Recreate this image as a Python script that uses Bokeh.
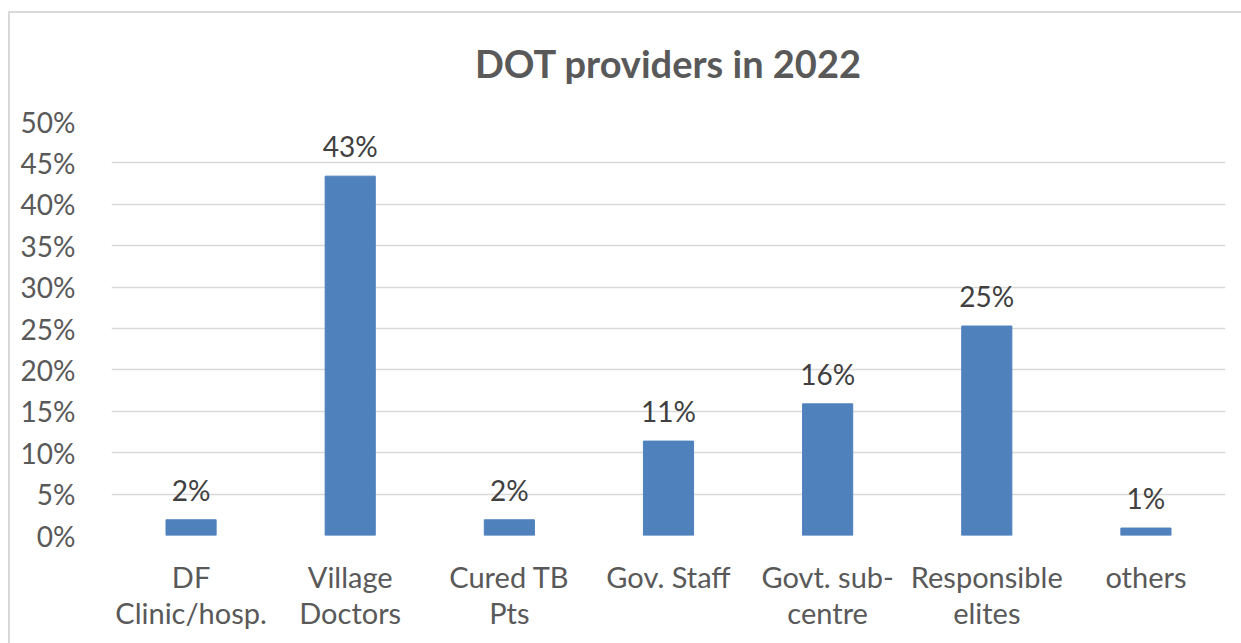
from bokeh.plotting import figure
from bokeh.models import ColumnDataSource, FixedTicker, NumeralTickFormatter, Range1d
from bokeh.core.properties import value
from bokeh.embed import file_html
from bokeh.resources import INLINE

categories = ["DF\nClinic/hosp.", "Village\nDoctors", "Cured TB\nPts", "Gov. Staff",
              "Govt. sub-\ncentre", "Responsible\nelites", "others"]
shares = [0.019, 0.434, 0.019, 0.114, 0.159, 0.253, 0.009]
labels = [f"{round(v * 100)}%" for v in shares]
y_ticks = [0, 0.05, 0.10, 0.15, 0.20, 0.25, 0.30, 0.35, 0.40, 0.45, 0.50]

FONT = "Lato"

src = ColumnDataSource(dict(cat=categories, val=shares, lab=labels))

p = figure(x_range=categories, y_range=Range1d(0, 0.5), width=1241, height=643,
           output_backend="svg", toolbar_location=None,
           min_border_left=111, min_border_right=16, min_border_top=121, min_border_bottom=108)

p.title.text = "DOT providers in 2022"
p.title.align = "center"
p.title.text_font = FONT
p.title.text_font_size = "38px"
p.title.text_font_style = "bold"
p.title.text_color = "#595959"
p.title.standoff = 72

p.vbar(x="cat", top="val", width=0.315, source=src, fill_color="#4F81BD", line_color="#4F81BD")
p.text(x="cat", y="val", text="lab", source=src, text_align="center", text_baseline="bottom",
       y_offset=-13, text_font=value(FONT), text_font_size="28px", text_color="#404040")

p.yaxis.ticker = FixedTicker(ticks=y_ticks)
p.yaxis.formatter = NumeralTickFormatter(format="0%")
for ax in (p.xaxis, p.yaxis):
    ax.axis_line_color = None
    ax.major_tick_line_color = None
    ax.minor_tick_line_color = None
    ax.major_label_text_font = FONT
    ax.major_label_text_color = "#595959"
p.yaxis.major_label_text_font_size = "28px"
p.xaxis.major_label_text_font_size = "29px"
p.xaxis.major_label_text_line_height = 1.03
p.yaxis.major_label_standoff = 30
p.xaxis.major_label_standoff = 17

p.xgrid.grid_line_color = None
p.ygrid.grid_line_color = "#d9d9d9"
p.ygrid.grid_line_width = 1.5
p.ygrid.ticker = FixedTicker(ticks=y_ticks)
p.outline_line_color = None

p.border_fill_color = None
p.background_fill_color = "white"
p.styles = {
    "background-color": "white",
    "background-image": "linear-gradient(#d9d9d9, #d9d9d9), linear-gradient(#d9d9d9, #d9d9d9)",
    "background-position": "8px 11px, 8px 11px",
    "background-size": "2px 100%, 100% 2px",
    "background-repeat": "no-repeat, no-repeat",
}

open("out.html", "w").write(file_html(p, INLINE))
